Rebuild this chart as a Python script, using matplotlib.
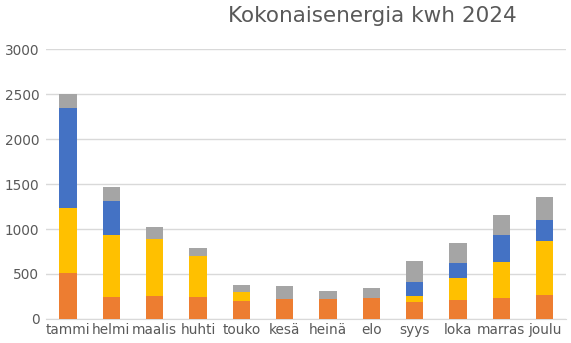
import numpy as np
import matplotlib.pyplot as plt

months = ['tammi', 'helmi', 'maalis', 'huhti', 'touko', 'kesä',
          'heinä', 'elo', 'syys', 'loka', 'marras', 'joulu']
orange = [515, 248, 259, 244, 196, 220, 219, 230, 185, 215, 233, 267]
yellow = [718, 685, 630, 456, 104, 0, 0, 0, 67, 244, 404, 600]
blue = [1111, 374, 0, 0, 0, 0, 0, 0, 163, 160, 296, 237]
gray = [156, 160, 133, 89, 74, 145, 96, 118, 233, 226, 219, 248]

series = [
    (orange, '#ED7D31'),
    (yellow, '#FFC000'),
    (blue, '#4472C4'),
    (gray, '#A5A5A5'),
]

fig = plt.figure(figsize=(5.71, 3.43), dpi=100)
ax = fig.add_axes([0.0811, 0.070, 0.9105, 0.787])

x = np.arange(len(months))
bottom = np.zeros(len(months))
for vals, color in series:
    vals = np.array(vals, dtype=float)
    ax.bar(x, vals, 0.4, bottom=bottom, color=color, zorder=3)
    bottom += vals

ax.set_xlim(-0.5, len(months) - 0.5)
ax.set_ylim(0, 3000)
ax.set_yticks(np.arange(0, 3001, 500))
ax.set_xticks(x)
ax.set_xticklabels(months)
ax.grid(axis='y', color='#D9D9D9', linewidth=1, zorder=0)
for s in ['top', 'right', 'left']:
    ax.spines[s].set_visible(False)
ax.spines['bottom'].set_color('#D9D9D9')
ax.tick_params(length=0, labelsize=9.8, colors='#595959')
ax.tick_params(axis='x', pad=3)
ax.tick_params(axis='y', pad=5)

fig.text(0.652, 0.953, 'Kokonaisenergia kwh 2024', ha='center', va='center',
         fontsize=15.5, color='#595959')

fig.savefig('out.png', dpi=100)
